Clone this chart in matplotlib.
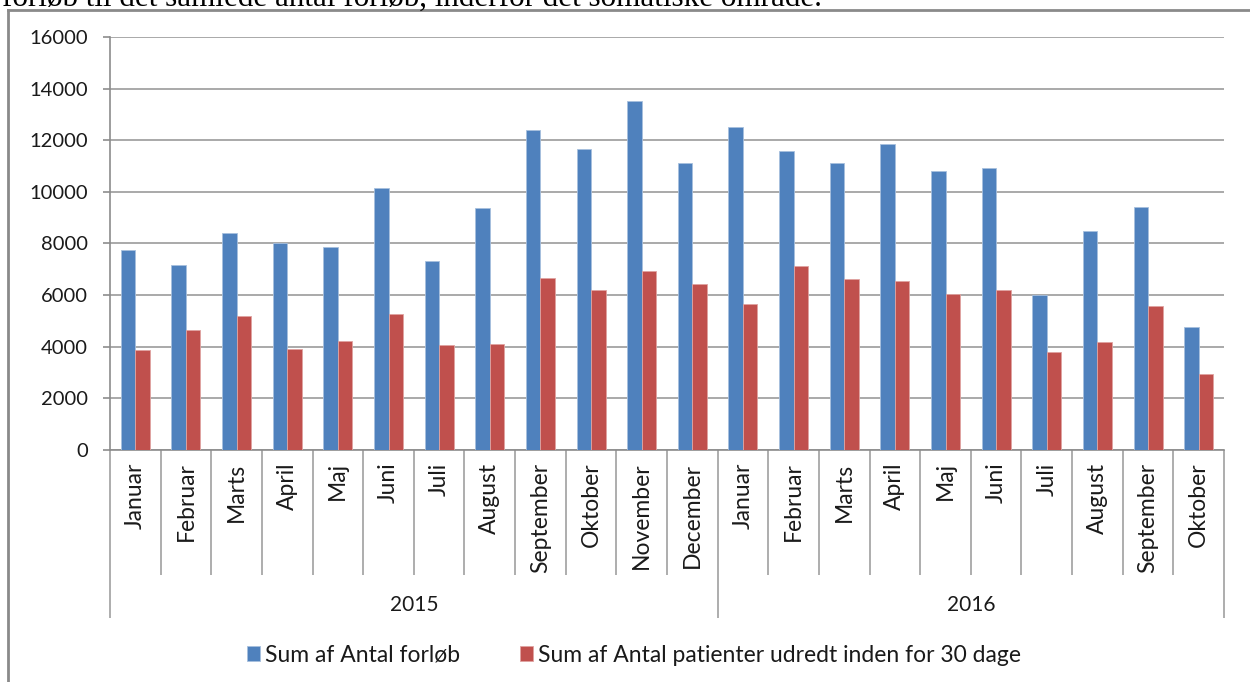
import matplotlib
matplotlib.use("Agg")
import matplotlib.pyplot as plt
from matplotlib.lines import Line2D
import numpy as np

months = ["Januar", "Februar", "Marts", "April", "Maj", "Juni", "Juli", "August",
          "September", "Oktober", "November", "December",
          "Januar", "Februar", "Marts", "April", "Maj", "Juni", "Juli", "August",
          "September", "Oktober"]
years = ["2015", "2016"]
months_per_year = [12, 10]

antal_forlob = [7750, 7170, 8415, 8000, 7880, 10155, 7340, 9390, 12390, 11660, 13535, 11130,
                12515, 11570, 11120, 11845, 10810, 10940, 6000, 8500, 9410, 4760]
udredt_30 = [3870, 4630, 5210, 3920, 4230, 5260, 4065, 4100, 6670, 6180, 6940, 6450,
             5660, 7110, 6630, 6550, 6050, 6180, 3780, 4180, 5570, 2930]

labels = ["Sum af Antal forløb", "Sum af Antal patienter udredt inden for 30 dage"]
blue = "#4F81BD"
red = "#C0504D"

plt.rcParams["font.family"] = ["Lato", "DejaVu Sans"]
plt.rcParams["font.size"] = 14.5

fig = plt.figure(figsize=(12.5, 6.82), dpi=100)
ax = fig.add_axes([110/1250, 1-450/682, (1224-110)/1250, (450-37)/682])

x = np.arange(len(months))
w = 0.286
ax.bar(x - w/2, antal_forlob, w, color=blue, edgecolor="#a7c0de", linewidth=0.6, label=labels[0], zorder=3)
ax.bar(x + w/2, udredt_30, w, color=red, edgecolor="#e0a3a1", linewidth=0.6, label=labels[1], zorder=3)

ax.set_xlim(-0.5, len(months) - 0.5)
ax.set_ylim(0, 16000)
ax.set_yticks(range(0, 16001, 2000))
ax.yaxis.grid(True, color="#a3a3a3", linewidth=1.3, zorder=0)
ax.set_axisbelow(True)
for s in ["top", "right"]:
    ax.spines[s].set_visible(False)
for s in ["left", "bottom"]:
    ax.spines[s].set_color("#8c8c8c")
    ax.spines[s].set_linewidth(1.2)
ax.tick_params(axis="y", length=5, width=1.2, color="#8c8c8c", pad=11, labelcolor="#1a1a1a")

ax.set_xticks(x)
ax.set_xticklabels(months, rotation=90, color="#1a1a1a", fontsize=16.5)
ax.tick_params(axis="x", length=0, pad=9)

# separators under the axis
trans = ax.get_xaxis_transform()
inner = [i - 0.5 for i in range(1, len(months)) if i != months_per_year[0]]
ax.vlines(inner, -125/413, 0, transform=trans, color="#a0a0a0", linewidth=1.2, clip_on=False)
outer = [-0.5, months_per_year[0] - 0.5, len(months) - 0.5]
ax.vlines(outer, -168/413, 0, transform=trans, color="#a0a0a0", linewidth=1.2, clip_on=False)

start = 0
for yr, n in zip(years, months_per_year):
    ax.text(start + (n - 1) / 2, -155/413, yr, transform=trans, ha="center", va="center",
            color="#1a1a1a", fontsize=15)
    start += n

fig.legend(loc="center", bbox_to_anchor=(0.507, 1 - 655/682), ncol=2, frameon=False,
           handlelength=0.6, handleheight=0.6, handletextpad=0.2, columnspacing=2.6,
           labelcolor="#1a1a1a", fontsize=16.5)

# frame of the chart object and clipped document text above it
fig.add_artist(Line2D([8/1250, 1.0], [1 - 10/682, 1 - 10/682], color="#8a8a8a", linewidth=2))
fig.add_artist(Line2D([8/1250, 8/1250], [0, 1 - 10/682], color="#8a8a8a", linewidth=2))
fig.text(0.0015, 1 - 6/682, "forløb til det samlede antal forløb, inderfor det somatiske område.",
         family=["Liberation Serif"], fontsize=22.4, va="baseline", ha="left", color="black")

fig.savefig("out.png", dpi=100)
